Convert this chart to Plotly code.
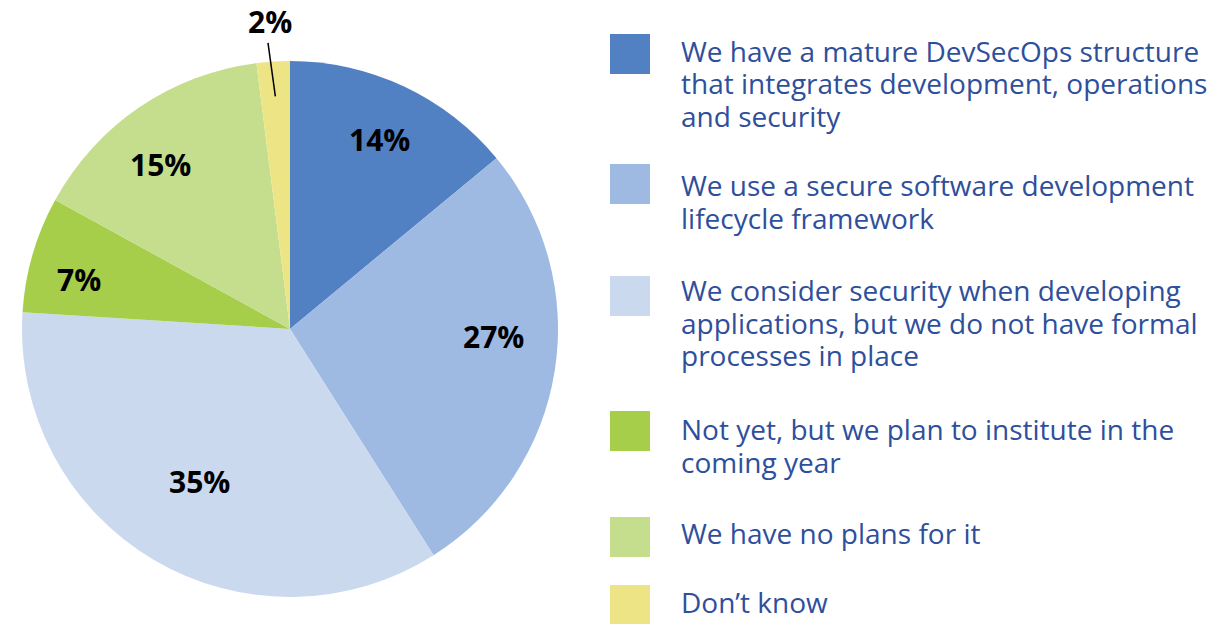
import math
import plotly.graph_objects as go

# Survey answers and their shares (%)
categories = [
    ["We have a mature DevSecOps structure", "that integrates development, operations", "and security"],
    ["We use a secure software development", "lifecycle framework"],
    ["We consider security when developing", "applications, but we do not have formal", "processes in place"],
    ["Not yet, but we plan to institute in the", "coming year"],
    ["We have no plans for it"],
    ["Don\u2019t know"],
]
values = [14, 27, 35, 7, 15, 2]
colors = ["#5281c3", "#9ebae2", "#cad9ee", "#a6ce4a", "#c5de8e", "#ede585"]

# radial placement of each percentage label (fraction of the radius)
label_radius = [0.78, 0.76, 0.66, 0.81, 0.78, 1.15]
label_angle_shift = [0, -7, 0, -3, -4, 0]

W, H = 1226, 624
CX, CY, R = 290, 329, 268  # pie centre / radius in pixels (top-left origin)

fig = go.Figure(
    go.Pie(
        values=values,
        labels=[" ".join(c) for c in categories],
        sort=False,
        direction="clockwise",
        rotation=0,
        marker=dict(colors=colors, line=dict(width=0)),
        textinfo="none",
        hoverinfo="label+percent",
        showlegend=False,
        domain=dict(x=[(CX - R) / W, (CX + R) / W], y=[(H - CY - R) / H, (H - CY + R) / H]),
    )
)

annotations = []
shapes = []
total = sum(values)
cum = 0
for i, v in enumerate(values):
    mid = (cum + v / 2) / total * 360 + label_angle_shift[i]
    cum += v
    a = math.radians(mid)
    r = R * label_radius[i]
    px = CX + r * math.sin(a)
    py = CY - r * math.cos(a)
    if label_radius[i] > 1:
        # small slice: label outside with a leader line
        px, py = 270, 22
        x0 = CX + R * 1.07 * math.sin(a)
        y0 = CY - R * 1.07 * math.cos(a)
        x1 = CX + R * 0.87 * math.sin(a)
        y1 = CY - R * 0.87 * math.cos(a)
        shapes.append(dict(type="line", xref="paper", yref="paper",
                           x0=(x0 - 4) / W, y0=1 - y0 / H, x1=x1 / W, y1=1 - y1 / H,
                           line=dict(color="black", width=1.5)))
    annotations.append(dict(
        x=px / W, y=1 - py / H, xref="paper", yref="paper",
        text=f"<b>{v}%</b>", showarrow=False, xanchor="center", yanchor="middle",
        font=dict(family="Open Sans", size=30, color="#000000"),
    ))

# Legend built from squares and text lines
legend_square_top = [34, 164, 276, 411, 517, 585]
legend_first_line = [49, 183, 288, 427, 531, 600]
LINE_STEP = 32.5
for i, (lines, col) in enumerate(zip(categories, colors)):
    top = legend_square_top[i]
    shapes.append(dict(type="rect", xref="paper", yref="paper",
                       x0=610 / W, x1=650 / W, y0=1 - top / H, y1=1 - (top + 40) / H,
                       fillcolor=col, line=dict(width=0)))
    for j, line in enumerate(lines):
        yc = legend_first_line[i] + j * LINE_STEP + 2
        annotations.append(dict(
            x=679 / W, y=1 - yc / H, xref="paper", yref="paper",
            text=line, showarrow=False, xanchor="left", yanchor="middle", align="left",
            font=dict(family="Open Sans", size=28, color="#2e4f9b"),
        ))

fig.update_layout(
    width=W, height=H,
    margin=dict(l=0, r=0, t=0, b=0),
    paper_bgcolor="white", plot_bgcolor="white",
    annotations=annotations, shapes=shapes,
)

fig.write_html("out.html")
